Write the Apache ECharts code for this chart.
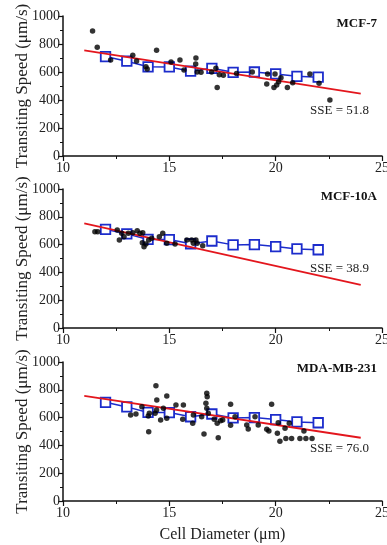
<!DOCTYPE html>
<html><head><meta charset="utf-8">
<script src="https://cdn.jsdelivr.net/npm/echarts@6/dist/echarts.min.js"></script>
<style>html,body{margin:0;padding:0;background:#fff}#c{width:387px;height:545px}</style>
</head><body><div id="c"></div>
<script>
// Model (blue squares), shared by all panels
const modelX = [12,13,14,15,16,17,18,19,20,21,22];
const modelY = [710,677,637,636,606,626,598,600,586,569,563];

// Panel titles and SSE labels
const panelNames = ['MCF-7','MCF-10A','MDA-MB-231'];
const sseLabels = ['SSE = 51.8','SSE = 38.9','SSE = 76.0'];

// Red fit lines [x, y] endpoints
const fitMCF7 = [[11,755],[24,445]];
const fitMCF10A = [[11,753],[24,310]];
const fitMDA = [[11,757],[24,455]];

// Measured cells (black dots)
const mcf7X = [11.39,11.61,12.24,13.28,13.46,13.9,13.96,14.4,15.08,15.5,15.69,16.25,16.24,16.49,16.31,16.99,17.19,17.25,17.35,17.54,18.16,18.9,19.58,19.62,19.97,19.92,20.05,20.14,20.25,20.55,20.8,21.61,22.04,22.55];
const mcf7Y = [893,776,686,719,679,638,621,755,671,686,614,700,657,598,600,600,626,490,581,576,590,600,514,586,586,490,507,531,559,490,524,586,519,400];

const mcf10aX = [11.5,11.63,12.55,12.65,12.76,12.87,13.07,13.28,13.49,13.62,13.75,13.73,13.81,13.9,14.03,14.17,14.53,14.69,14.88,15.27,15.82,16.05,16.13,16.25,16.31,16.57];
const mcf10aY = [693,693,705,633,681,657,681,686,700,681,686,614,585,604,633,645,657,681,609,604,633,633,609,633,609,592];

const mdaX = [13.18,13.43,13.71,14.01,14.06,14.03,14.33,14.37,14.4,14.41,14.59,14.72,14.88,14.88,15.31,15.63,15.66,16.1,16.13,16.52,16.63,16.72,16.76,16.78,16.76,16.83,17.11,17.25,17.3,17.41,17.51,17.88,17.88,18.09,18.64,18.71,19.03,19.18,19.58,19.68,19.81,20.08,20.12,20.2,20.44,20.48,20.64,20.75,21.14,21.33,21.42,21.71];
const mdaY = [619,626,678,612,631,499,631,829,655,727,583,667,755,595,691,588,691,559,619,607,482,703,775,750,667,631,588,559,455,578,583,696,545,607,547,518,607,547,516,504,696,487,563,429,523,450,559,450,450,504,450,450];

const xTicks = {min:10, max:25, interval:5};
const yTicks = {min:0, max:1000, interval:200};

const FONT = 'Liberation Serif';
const BLUE = '#1c2ccc';
const RED = '#e3161d';

const chart = echarts.init(document.getElementById('c'), null, {renderer:'canvas'});

const tops = [16, 189, 362];
const heights = [140, 139, 139];
const grids = tops.map((t,i)=>({left:63, right:5, top:t, height:heights[i], containLabel:false, outerBoundsMode:'none'}));

const xAxes = grids.map((g,i)=>({
  gridIndex:i, type:'value', min:xTicks.min, max:xTicks.max, interval:xTicks.interval,
  axisLine:{show:true, lineStyle:{color:'#111', width:1.5}},
  axisTick:{show:true, inside:false, length:5, lineStyle:{color:'#111', width:1.2}},
  minorTick:{show:true, splitNumber:2, length:3, lineStyle:{color:'#111', width:1}},
  splitLine:{show:false},
  axisLabel:{color:'#222', fontFamily:FONT, fontSize:14, margin:5, hideOverlap:false},
  name: i===2 ? 'Cell Diameter (μm)' : '',
  nameLocation:'middle', nameGap:26, nameMoveOverlap:false,
  nameTextStyle:{color:'#222', fontFamily:FONT, fontSize:16}
}));

const yAxes = grids.map((g,i)=>({
  gridIndex:i, type:'value', min:yTicks.min, max:yTicks.max, interval:yTicks.interval,
  axisLine:{show:true, lineStyle:{color:'#111', width:1.5}},
  axisTick:{show:true, inside:false, length:5, lineStyle:{color:'#111', width:1.2}},
  minorTick:{show:true, splitNumber:2, length:3, lineStyle:{color:'#111', width:1}},
  splitLine:{show:false},
  axisLabel:{color:'#222', fontFamily:FONT, fontSize:14, margin:3, formatter:(v)=>String(v)},
  name:'Transiting Speed (μm/s)', nameLocation:'middle', nameGap:32, nameMoveOverlap:false,
  nameTextStyle:{color:'#222', fontFamily:FONT, fontSize:17}
}));

const dotsX = [mcf7X, mcf10aX, mdaX];
const dotsY = [mcf7Y, mcf10aY, mdaY];
const fits = [fitMCF7, fitMCF10A, fitMDA];

const series = [];
for (let i=0;i<3;i++){
  series.push({
    type:'line', xAxisIndex:i, yAxisIndex:i, z:2,
    data: modelX.map((x,k)=>[x, modelY[k]]),
    symbol:'rect', symbolSize:9.5, showAllSymbol:true,
    lineStyle:{color:BLUE, width:1.5},
    itemStyle:{color:'#fff', borderColor:BLUE, borderWidth:1.8},
    silent:true, animation:false
  });
  series.push({
    type:'line', xAxisIndex:i, yAxisIndex:i, z:3,
    data: fits[i], symbol:'none',
    lineStyle:{color:RED, width:1.8}, silent:true, animation:false
  });
  series.push({
    type:'scatter', xAxisIndex:i, yAxisIndex:i, z:4,
    data: dotsX[i].map((x,k)=>[x, dotsY[i][k]]),
    symbol:'circle', symbolSize:5.5,
    itemStyle:{color:'#000'}, silent:true, animation:false
  });
}

const graphics = [];
const titleY = [25, 198, 370];
const sseY = [112, 270, 450];
for (let i=0;i<3;i++){
  graphics.push({type:'text', right:10, top:titleY[i]-8,
    style:{text:panelNames[i], fill:'#111', font:'bold 13px "'+FONT+'"'}});
  graphics.push({type:'text', left:310, top:sseY[i]-8,
    style:{text:sseLabels[i], fill:'#222', font:'13px "'+FONT+'"'}});
}

chart.setOption({
  backgroundColor:'#fff',
  animation:false,
  grid:grids, xAxis:xAxes, yAxis:yAxes, series:series, graphic:graphics
});
</script></body></html>
